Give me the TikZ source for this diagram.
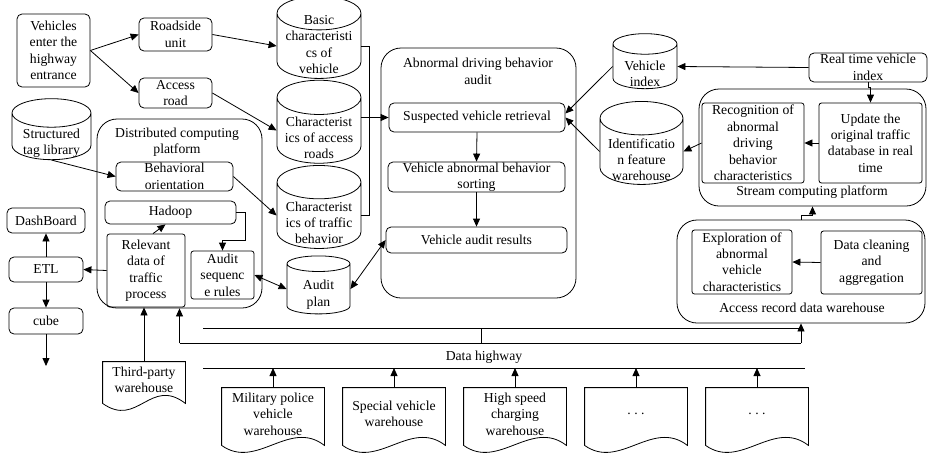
\documentclass[tikz,border=0pt]{standalone}
\usepackage{fontspec}
\setmainfont{Liberation Serif}
\usetikzlibrary{shapes.geometric,arrows.meta,calc}

% wavy bottom of a warehouse document
\newcommand{\docframe}[1]{%
  \draw (#1.north west) -- (#1.north east) -- ([yshift=-5pt]#1.south east)
    .. controls ([xshift=-35pt,yshift=22pt]#1.south east) and ([xshift=35pt,yshift=-30pt]#1.south west)
    .. ([yshift=-5pt]#1.south west) -- cycle;}
% text inside a cylinder, not counted in its size; optional shift down
\newcommand{\cyltext}[2][0pt]{\raisebox{\dimexpr-3.4pt-#1\relax}[0pt][0pt]{\begin{tabular}{@{}c@{}}#2\end{tabular}}}

\begin{document}
\begin{tikzpicture}[x=1pt, y=-1pt, line width=0.8pt,
    font=\fontsize{13.7}{16.4}\selectfont,
    sz/.style 2 args={minimum width=#1pt, minimum height=#2pt},
    box/.style={draw, rounded corners=5pt, align=center, inner sep=0pt},
    sqbox/.style={draw, rounded corners=2.5pt, align=center, inner sep=0pt},
    group/.style={draw, rounded corners=20pt, inner sep=0pt},
    db/.style={draw, cylinder, shape border rotate=90, aspect=0.5, inner sep=0pt},
    doc/.style={align=center, inner sep=0pt},
    arr/.style={-{Triangle[length=8pt,width=7pt]}},
    biarr/.style={{Triangle[length=8pt,width=7pt]}-{Triangle[length=8pt,width=7pt]}}]
    \useasboundingbox (0,0) rectangle (929,461);

    % Containers
    \node[group, sz={165}{189}] (distr) at (179.5,213.5) {};
    \node[align=center] (distrlbl) at (177,142) {Distributed computing\\platform};
    \node[group, sz={195}{250}] (audit) at (478.5,173) {};
    \node[align=center] (auditlbl) at (478,71.5) {Abnormal driving behavior\\audit};
    \node[group, sz={227}{117}] (stream) at (812.5,147.5) {};
    \node (streamlbl) at (812,192) {Stream computing platform};
    \node[group, sz={248}{103}] (accw) at (801,271.5) {};
    \node (accwlbl) at (802,308) {Access record data warehouse};

    % Entrance side
    \node[box, sz={73}{73}] (veh) at (53.5,50.5) {Vehicles\\enter the\\highway\\entrance};
    \node[box, sz={73}{33}] (rsu) at (175.5,34.5) {Roadside\\unit};
    \node[box, sz={73}{30}] (road) at (175.5,93) {Access\\road};
    \node[db, sz={84}{82}] (basic) at (319,46) {\cyltext{Basic\\characteristi\\cs of\\vehicle}};
    \node[db, sz={84}{83}] (roads) at (319,130.5) {\cyltext[9pt]{Characterist\\ics of access\\roads}};
    \node[db, sz={84}{83}] (traffic) at (319,215.5) {\cyltext[9pt]{Characterist\\ics of traffic\\behavior}};
    \node[db, sz={63}{58}] (plan) at (318.5,289) {\cyltext[6pt]{Audit\\plan}};
    \node[db, sz={79}{61}] (tag) at (51.5,136.5) {\cyltext[7pt]{Structured\\tag library}};

    % Distributed computing platform
    \node[box, sz={117}{29}] (beh) at (174.5,176.5) {Behavioral\\orientation};
    \node[box, sz={131}{23}] (hadoop) at (170.5,212.5) {Hadoop};
    \node[sqbox, sz={78}{73}] (rel) at (146,270.5) {Relevant\\data of\\traffic\\process};
    \node[sqbox, sz={63}{48}] (seq) at (222.5,275) {Audit\\sequenc\\e rules};
    \node[box, sz={78}{25}] (dash) at (46,220.5) {DashBoard};
    \node[box, sz={74}{25}] (etl) at (46,269.5) {ETL};
    \node[box, sz={74}{26}] (cube) at (46,321) {cube};
    \coordinate (cubeout) at (46,366);

    % Audit
    \node[box, sz={176}{29}] (ret) at (477,117.5) {Suspected vehicle retrieval};
    \node[box, sz={177}{30}] (sort) at (476.5,177) {Vehicle abnormal behavior\\sorting};
    \node[box, sz={181}{26}] (res) at (476.5,240) {Vehicle audit results};

    % Right side
    \node[db, sz={64}{55}] (vidx) at (645,66.5) {\cyltext[9pt]{Vehicle\\index}};
    \node[db, sz={83}{83}] (idf) at (641.5,151.5) {\cyltext[10pt]{Identificatio\\n feature\\warehouse}};
    \node[box, sz={118}{29}] (rt) at (868,67.5) {Real time vehicle\\index};
    \node[sqbox, sz={102}{80}] (rec) at (753,143) {Recognition of\\abnormal\\driving\\behavior\\characteristics};
    \node[sqbox, sz={103}{80}] (upd) at (870.5,143) {Update the\\original traffic\\database in real\\time};
    \node[sqbox, sz={100}{64}] (expl) at (742,262) {Exploration of\\abnormal\\vehicle\\characteristics};
    \node[sqbox, sz={101}{63}] (dcl) at (871.5,262.5) {Data cleaning\\and\\aggregation};

    % Warehouses
    \node[doc, sz={82}{36}] (third) at (144,380) {Third-party\\warehouse};
    \node[doc, sz={102}{52}] (mil) at (273,414) {Military police\\vehicle\\warehouse};
    \node[doc, sz={102}{52}] (spec) at (394,414) {Special vehicle\\warehouse};
    \node[doc, sz={102}{52}] (fee) at (515,414) {High speed\\charging\\warehouse};
    \node[doc, sz={102}{52}] (more1) at (636,414) {.\ .\ .};
    \node[doc, sz={102}{52}] (more2) at (757,414) {.\ .\ .};
    \foreach \d in {third,mil,spec,fee,more1,more2} {\docframe{\d}}

    % Data highway
    \coordinate (hwyL) at (203,368);
    \coordinate (hwyR) at (805,368);
    \draw (hwyL) -- (hwyR);
    \node (hwylbl) at (484,357) {Data highway};
    \foreach \d in {mil,spec,fee,more1,more2} {\draw[arr] (\d.north) -- (\d.north |- hwyL);}
    \coordinate (busA) at (203,328);
    \coordinate (busB) at (178,343);
    \coordinate (busJ) at (481,328);
    \draw (busA) -- (accw.south |- busA);
    \draw (busB -| distr.south) -- (busB -| accw.south);
    \draw (busJ) -- (busJ |- busB);
    \draw[arr] (busB -| distr.south) -- (distr.south);
    \draw[arr] (busB -| accw.south) -- (accw.south);
    \draw[arr] (third.north) -- (third.north |- rel.south);

    % Connectors
    \draw[arr] (veh.east) -- (rsu.west);
    \draw[arr] (veh.east) -- (road.west);
    \draw[arr] (rsu.east) -- (basic.west);
    \draw[arr] (road.east) -- (roads.west);
    \draw[arr] (beh.east) -- (traffic.west);
    \draw (basic.east) -- ++(8,0) |- (traffic.east);
    \draw[arr] (roads.east |- ret.west) -- (ret.west);
    \draw[arr] (tag.south) -- (beh.west);
    \draw[arr] ([xshift=7pt]rel.north) -- ([xshift=-5pt]hadoop.south);
    \draw[arr] (hadoop.east) -- ++(9,0) -- ++(0,27.5) -| (seq.north);
    \draw[arr] (rel.west) -- (etl.east);
    \draw[arr] (etl.north) -- (dash.south);
    \draw[arr] (etl.south) -- (cube.north);
    \draw[arr] (cube.south) -- (cubeout);
    \draw[biarr] (seq.east) -- (plan.west);
    \draw[biarr] (plan.east) -- (res.west);
    \draw[arr] (ret.south) -- (sort.north);
    \draw[arr] (sort.south) -- (res.north);
    \draw[arr] (vidx.west) -- ([yshift=4pt]ret.east);
    \draw[arr] (idf.west) -- (ret.east);
    \draw[arr] (rt.west) -- (vidx.east);
    \draw[arr] (rt.south) -- ++(0,5) -| (upd.north);
    \draw[arr] (upd.west) -- (rec.east);
    \draw[arr] (rec.west) -- (idf.east);
    \draw[arr] (dcl.west) -- (expl.east);
    \draw[arr] (accw.north) -- ++(0,-4) -| (stream.south);
\end{tikzpicture}
\end{document}
